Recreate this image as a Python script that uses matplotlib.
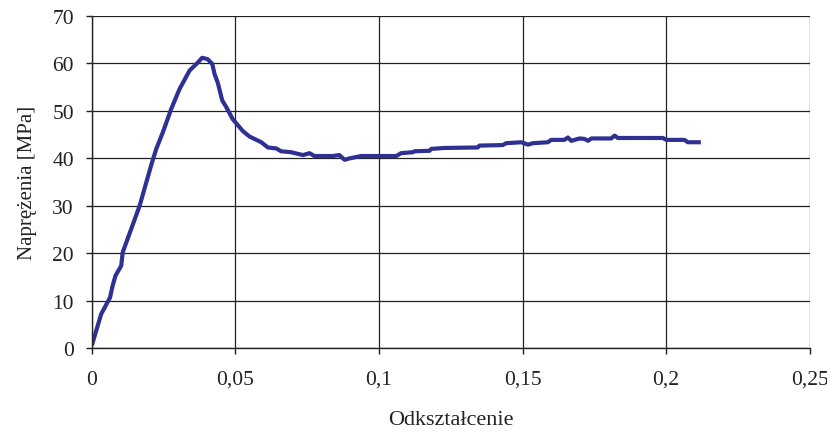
import matplotlib
matplotlib.use("Agg")
import matplotlib.pyplot as plt

strain = [0.0002, 0.0032, 0.0063, 0.0072, 0.0082, 0.0102, 0.0107, 0.0166, 0.0206, 0.0224,
          0.0247, 0.0276, 0.0305, 0.0340, 0.0369, 0.0384, 0.0403, 0.0419, 0.0427, 0.0438,
          0.0454, 0.0468, 0.0490, 0.0525, 0.0549, 0.0590, 0.0613, 0.0642, 0.0659, 0.0694,
          0.0735, 0.0758, 0.0775, 0.0839, 0.0862, 0.0880, 0.0897, 0.0938, 0.1060, 0.1077,
          0.1118, 0.1124, 0.1176, 0.1182, 0.1228, 0.1344, 0.1350, 0.1431, 0.1443, 0.1496,
          0.1519, 0.1536, 0.1588, 0.1600, 0.1646, 0.1658, 0.1670, 0.1699, 0.1716, 0.1728,
          0.1740, 0.1809, 0.1821, 0.1832, 0.1989, 0.2001, 0.2064, 0.2076, 0.2114]
stress = [1.1, 7.2, 10.7, 13.2, 15.3, 17.4, 20.2, 30.0, 38.5, 42.0,
          45.5, 50.4, 54.6, 58.5, 60.2, 61.2, 60.9, 59.9, 57.8, 56.0,
          52.2, 50.8, 48.3, 45.8, 44.6, 43.4, 42.3, 42.1, 41.5, 41.3,
          40.7, 41.1, 40.5, 40.5, 40.7, 39.7, 40.0, 40.5, 40.5, 41.1,
          41.3, 41.5, 41.6, 42.0, 42.2, 42.3, 42.7, 42.8, 43.2, 43.4,
          42.9, 43.2, 43.4, 43.9, 43.9, 44.4, 43.7, 44.2, 44.1, 43.7,
          44.2, 44.2, 44.8, 44.3, 44.3, 43.9, 43.9, 43.4, 43.4]

xticks = [0, 0.05, 0.1, 0.15, 0.2, 0.25]
xticklabels = ["0", "0,05", "0,1", "0,15", "0,2", "0,25"]
yticks = [0, 10, 20, 30, 40, 50, 60, 70]

plt.rcParams['font.family'] = ['Liberation Serif', 'DejaVu Serif']

fig = plt.figure(figsize=(8.27, 4.35), dpi=100)
ax = fig.add_axes([0.1112, 0.197, 0.8677, 0.764])
ax.plot(strain, stress, color="#2E3192", linewidth=3.0, solid_joinstyle='round')
ax.set_xlim(0, 0.25)
ax.set_ylim(0, 70)
ax.set_xticks(xticks)
ax.set_xticklabels(xticklabels)
ax.set_yticks(yticks)
ax.grid(True, color="#222222", linewidth=0.9)
ax.set_axisbelow(True)
for s in ['top', 'right']:
    ax.spines[s].set_visible(False)
for s in ['left', 'bottom']:
    ax.spines[s].set_color("#222222")
    ax.spines[s].set_linewidth(1.0)
ax.tick_params(direction='out', length=4.5, width=1.0, colors="#222222", labelsize=15.5,
               labelcolor="#222222")
ax.tick_params(axis='x', pad=11)
ax.tick_params(axis='y', pad=8.5)
ax.set_xlabel("Odkształcenie", fontsize=16, color="#222222", labelpad=15)
ax.set_ylabel("Naprężenia [MPa]", fontsize=15, color="#222222", labelpad=11)
fig.savefig("out.png", dpi=100, facecolor="white")
